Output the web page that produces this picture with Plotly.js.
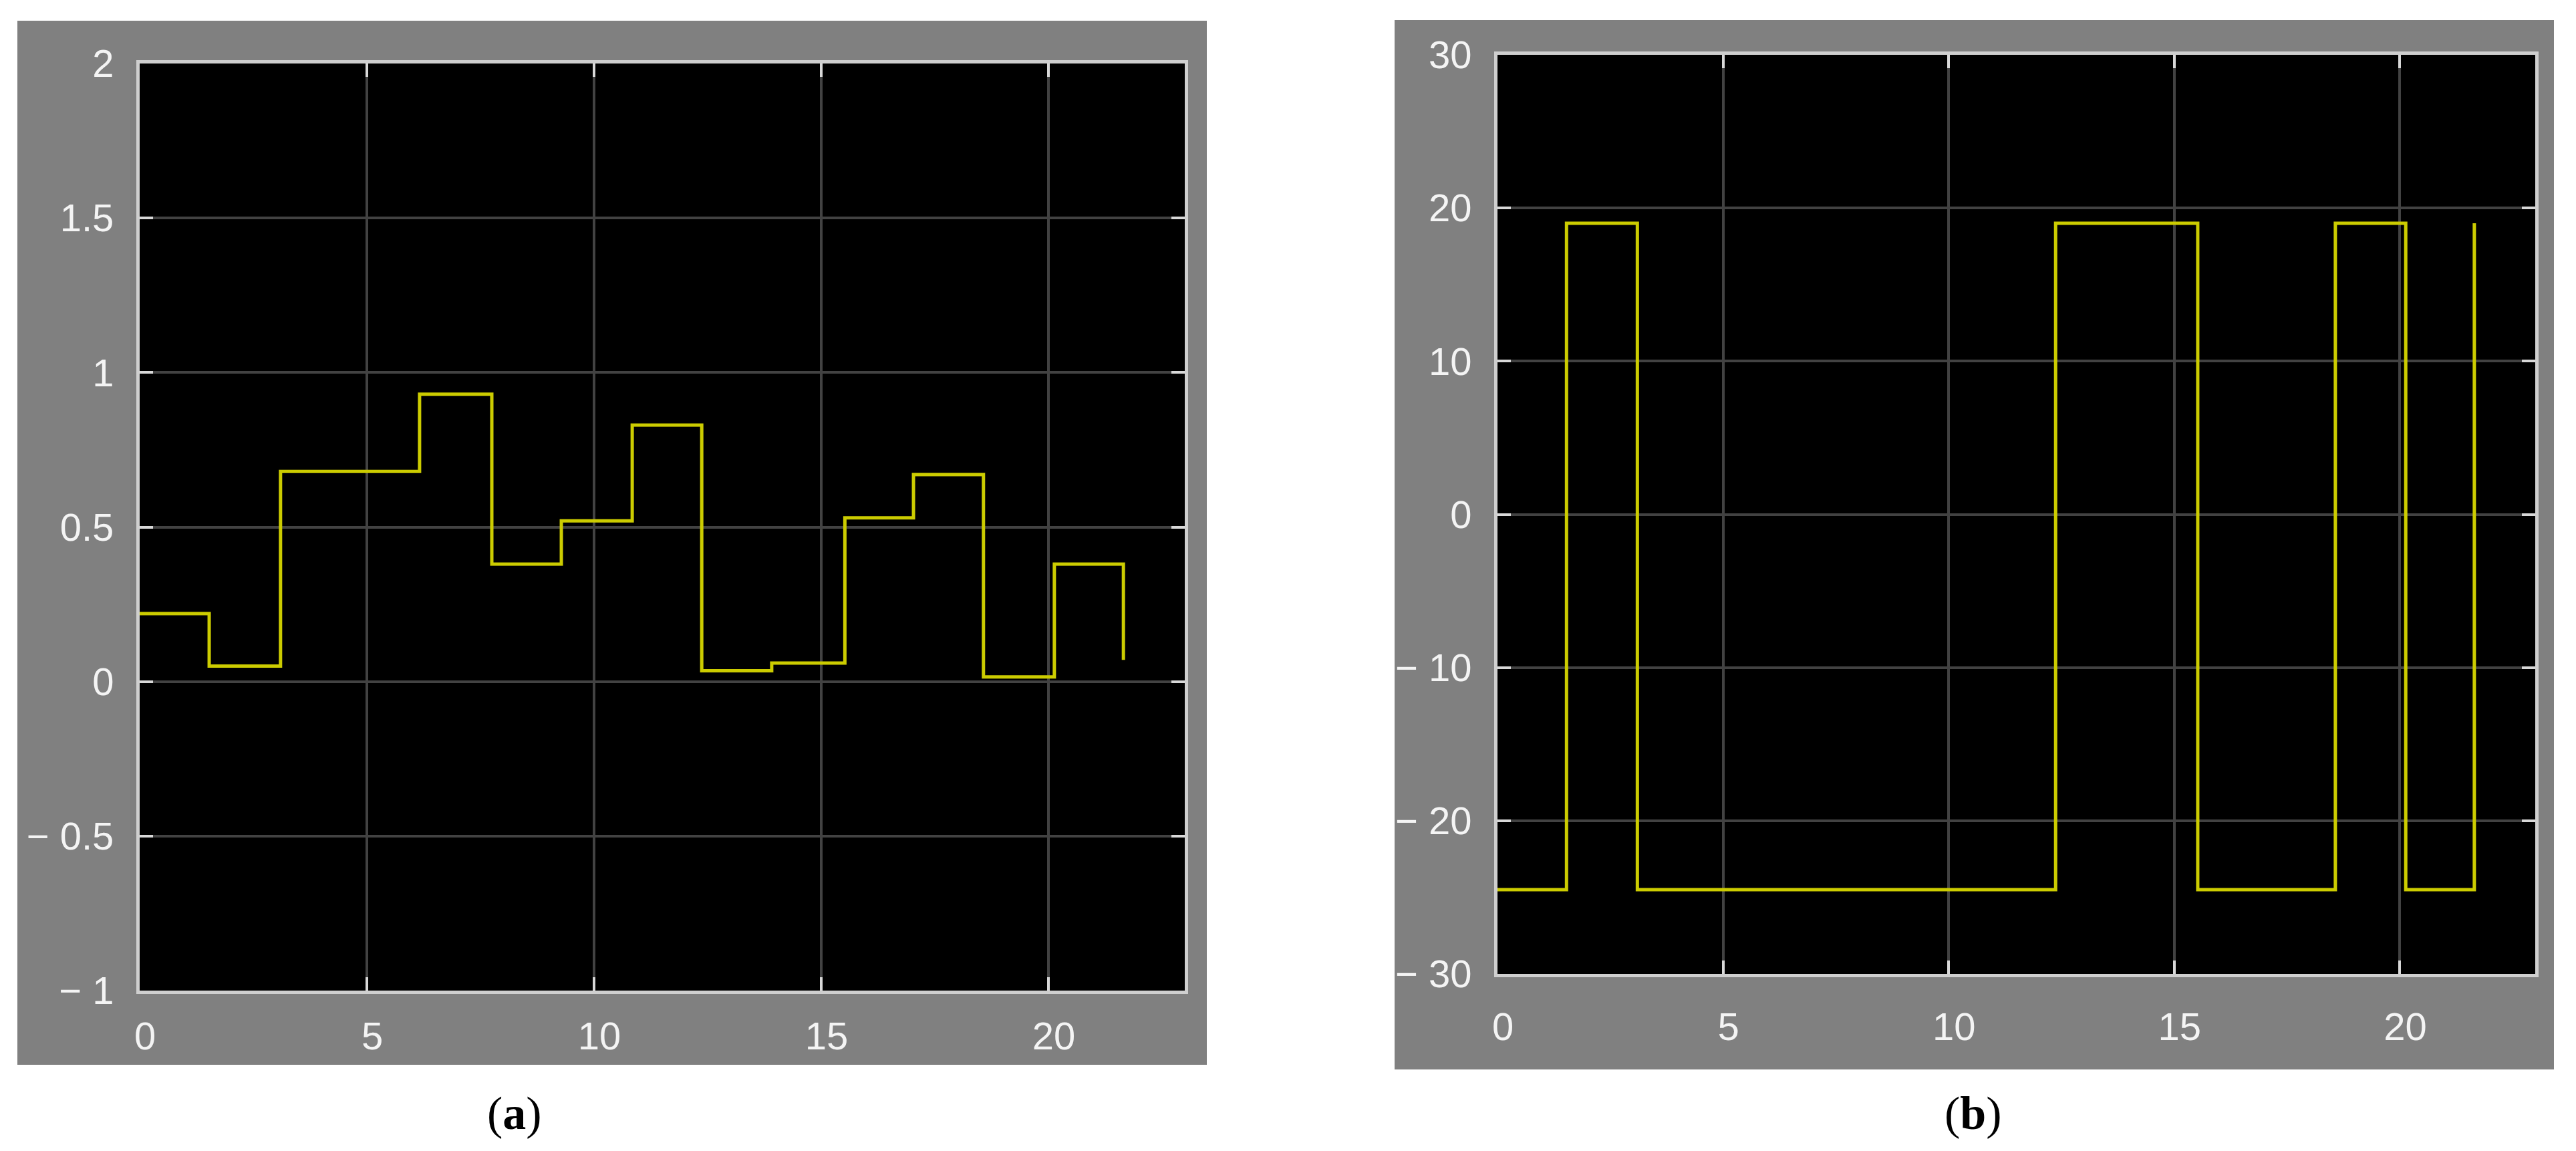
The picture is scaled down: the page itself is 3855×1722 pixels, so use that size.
<!DOCTYPE html>
<html>
<head>
<meta charset="utf-8">
<script src="https://cdn.plot.ly/plotly-3.0.1.min.js"></script>
<style>
  html, body { margin: 0; padding: 0; background: #ffffff; }
  #chart { width: 3855px; height: 1722px; }
</style>
</head>
<body>
<div id="chart"></div>
<script>
// ---- data ----
const time = [0, 1.53, 3.1, 4.64, 6.16, 7.75, 9.28, 10.84, 12.37, 13.91, 15.52, 17.03, 18.57, 20.13, 21.65];
const signalA = [0.22, 0.05, 0.68, 0.68, 0.93, 0.38, 0.52, 0.83, 0.035, 0.06, 0.53, 0.67, 0.015, 0.38, 0.07];
const signalB = [-24.5, 19, -24.5, -24.5, -24.5, -24.5, -24.5, -24.5, 19, 19, -24.5, -24.5, 19, -24.5, 19];

const xTickVals = [0, 5, 10, 15, 20];
const xTickText = ['0', '5', '10', '15', '20'];
const yTickValsA = [-1, -0.5, 0, 0.5, 1, 1.5, 2];
const yTickTextA = ['\u2212 1', '\u2212 0.5', '0', '0.5', '1', '1.5', '2'];
const yTickValsB = [-30, -20, -10, 0, 10, 20, 30];
const yTickTextB = ['\u2212 30', '\u2212 20', '\u2212 10', '0', '10', '20', '30'];
const captions = ['(<b>a</b>)', '(<b>b</b>)'];

// ---- styling ----
const W = 3855, H = 1722;
const px = v => v / W;
const py = v => 1 - v / H;
const lineColor = '#cccc00';
const tickFont = { family: 'Liberation Sans, Arial, sans-serif', size: 58, color: '#f4f4f4' };

function xAxis(domain, anchor, standoff) {
  return {
    domain: domain, range: [0, 23], tickmode: 'array', tickvals: xTickVals, ticktext: xTickText, anchor: anchor,
    showgrid: true, gridcolor: '#424242', gridwidth: 4, zeroline: false,
    showline: true, linecolor: '#cfcfcf', linewidth: 5, mirror: 'ticks',
    ticks: 'inside', ticklen: 20, tickwidth: 4, tickcolor: '#d8d8d8',
    tickfont: tickFont, ticklabelstandoff: standoff, ticklabelshift: 8, fixedrange: true
  };
}
function yAxis(domain, range, vals, text, anchor) {
  return {
    domain: domain, range: range, tickmode: 'array', tickvals: vals, ticktext: text, anchor: anchor,
    showgrid: true, gridcolor: '#424242', gridwidth: 4, zeroline: false,
    showline: true, linecolor: '#cfcfcf', linewidth: 5, mirror: 'ticks',
    ticks: 'inside', ticklen: 20, tickwidth: 4, tickcolor: '#d8d8d8',
    tickfont: tickFont, ticklabelstandoff: 22, fixedrange: true
  };
}

const traces = [
  { x: time, y: signalA, type: 'scatter', mode: 'lines', line: { shape: 'hv', color: lineColor, width: 5 }, xaxis: 'x', yaxis: 'y', hoverinfo: 'skip' },
  { x: time, y: signalB, type: 'scatter', mode: 'lines', line: { shape: 'hv', color: lineColor, width: 5 }, xaxis: 'x2', yaxis: 'y2', hoverinfo: 'skip' }
];

const layout = {
  width: W, height: H,
  margin: { l: 0, r: 0, t: 0, b: 0, pad: 0 },
  paper_bgcolor: '#ffffff',
  plot_bgcolor: 'rgba(0,0,0,0)',
  showlegend: false,
  xaxis: xAxis([px(209), px(1773)], 'y', 13),
  yaxis: yAxis([py(1482), py(95)], [-1, 2], yTickValsA, yTickTextA, 'x'),
  xaxis2: xAxis([px(2241), px(3794)], 'y2', 24),
  yaxis2: yAxis([py(1457), py(82)], [-30, 30], yTickValsB, yTickTextB, 'x2'),
  shapes: [
    { type: 'rect', xref: 'paper', yref: 'paper', x0: px(26), x1: px(1806), y0: py(1593), y1: py(31), fillcolor: '#808080', line: { width: 0 }, layer: 'below' },
    { type: 'rect', xref: 'paper', yref: 'paper', x0: px(2087), x1: px(3822), y0: py(1600), y1: py(30), fillcolor: '#808080', line: { width: 0 }, layer: 'below' },
    { type: 'rect', xref: 'x domain', yref: 'y domain', x0: 0, x1: 1, y0: 0, y1: 1, fillcolor: '#000000', line: { width: 0 }, layer: 'below' },
    { type: 'rect', xref: 'x2 domain', yref: 'y2 domain', x0: 0, x1: 1, y0: 0, y1: 1, fillcolor: '#000000', line: { width: 0 }, layer: 'below' }
  ],
  annotations: [
    { xref: 'paper', yref: 'paper', x: px(770), y: py(1665), text: captions[0], showarrow: false, xanchor: 'center', yanchor: 'middle', font: { family: 'Liberation Serif, DejaVu Serif, serif', size: 70, color: '#000000' } },
    { xref: 'paper', yref: 'paper', x: px(2953), y: py(1665), text: captions[1], showarrow: false, xanchor: 'center', yanchor: 'middle', font: { family: 'Liberation Serif, DejaVu Serif, serif', size: 70, color: '#000000' } }
  ]
};

Plotly.newPlot('chart', traces, layout, { staticPlot: true, displayModeBar: false });
</script>
</body>
</html>
